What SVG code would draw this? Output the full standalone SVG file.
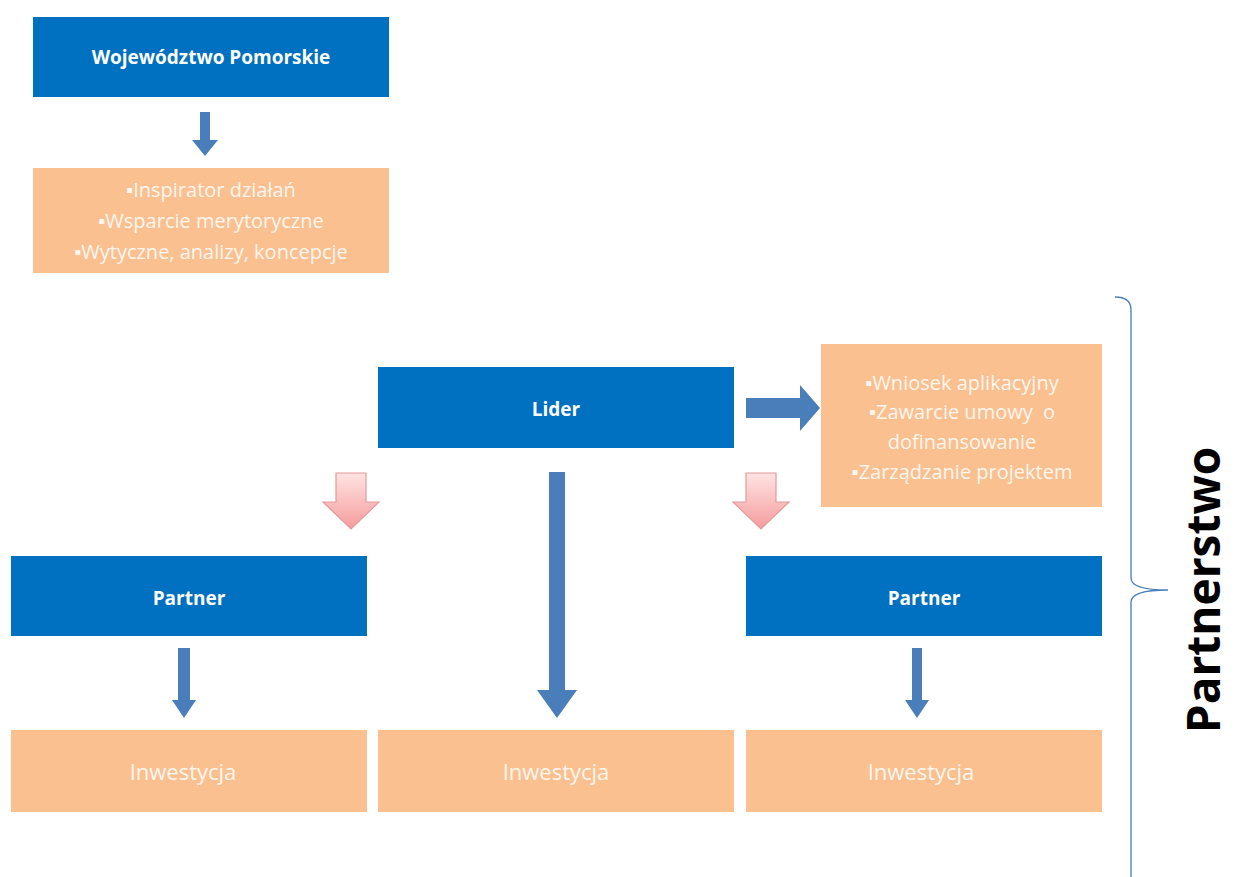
<svg xmlns="http://www.w3.org/2000/svg" width="1235" height="877" viewBox="0 0 1235 877">
<defs>
<linearGradient id="pink" x1="0" y1="0" x2="0" y2="1">
<stop offset="0" stop-color="#FFE3E3"/>
<stop offset="1" stop-color="#F59C9C"/>
</linearGradient>
<style>
.blue{fill:#0070C0}
.peach{fill:#FAC090}
.bt{font-family:"Open Sans","Liberation Sans",sans-serif;font-weight:bold;font-size:19px;fill:#FFFFFF;text-anchor:middle}
.pt{font-family:"Open Sans","Liberation Sans",sans-serif;font-size:20px;fill:#FFF6EE;text-anchor:middle}
.it{font-size:22px}
.arr{fill:#4A7EBB}
.pk{fill:url(#pink);stroke:#E39A9A;stroke-width:1.2}
</style>
</defs>
<rect width="1235" height="877" fill="#FFFFFF"/>
<g id="woj">
<rect class="blue" x="33" y="17" width="356" height="80"/>
<text class="bt" x="211" y="64">Województwo Pomorskie</text>
</g>
<g id="woj-desc">
<rect class="peach" x="33" y="168" width="356" height="105"/>
<text class="pt" x="211" y="197">▪Inspirator działań</text>
<text class="pt" x="211" y="228">▪Wsparcie merytoryczne</text>
<text class="pt" x="211" y="259">▪Wytyczne, analizy, koncepcje</text>
</g>
<g id="lider">
<rect class="blue" x="378" y="367" width="356" height="81"/>
<text class="bt" x="556" y="416">Lider</text>
</g>
<g id="lider-desc">
<rect class="peach" x="821" y="344" width="281" height="163"/>
<text class="pt" x="962" y="390">▪Wniosek aplikacyjny</text>
<text class="pt" x="962" y="419" xml:space="preserve">▪Zawarcie umowy  o</text>
<text class="pt" x="962" y="449">dofinansowanie</text>
<text class="pt" x="962" y="479">▪Zarządzanie projektem</text>
</g>
<g id="partner1">
<rect class="blue" x="11" y="556" width="356" height="80"/>
<text class="bt" x="189" y="605">Partner</text>
</g>
<g id="partner2">
<rect class="blue" x="746" y="556" width="356" height="80"/>
<text class="bt" x="924" y="605">Partner</text>
</g>
<g id="inw1">
<rect class="peach" x="11" y="730" width="356" height="82"/>
<text class="pt it" x="183" y="780">Inwestycja</text>
</g>
<g id="inw2">
<rect class="peach" x="378" y="730" width="356" height="82"/>
<text class="pt it" x="556" y="780">Inwestycja</text>
</g>
<g id="inw3">
<rect class="peach" x="746" y="730" width="356" height="82"/>
<text class="pt it" x="921" y="780">Inwestycja</text>
</g>
<g id="partnerstwo">
<path d="M1115,297 Q1131,297 1131,310 L1131,578 Q1131,590 1168,590 Q1131,590 1131,602 L1131,877" fill="none" stroke="#4A7EBB" stroke-width="1.3"/>
<text x="0" y="0" transform="translate(1220,590) rotate(-90)" font-family="'Open Sans','Liberation Sans',sans-serif" font-weight="bold" font-size="46" fill="#000000" text-anchor="middle">Partnerstwo</text>
</g>
<g id="connectors">
<path class="arr" d="M200,112 H210 V140 H218 L205,156 L192,140 H200 Z"/>
<path class="arr" d="M746,398 H800 V385 L820,408 L800,431 V418 H746 Z"/>
<path class="arr" d="M549,472 H565 V690 H577 L557,718 L537,690 H549 Z"/>
<path class="arr" d="M178,648 H190 V700 H196 L184,718 L172,700 H178 Z"/>
<path class="arr" d="M912,648 H922 V700 H929 L917,718 L905,700 H912 Z"/>
<path class="pk" d="M336,473 H366 V502 H379 L351,529 L323,502 H336 Z"/>
<path class="pk" d="M746,473 H776 V502 H789 L761,529 L733,502 H746 Z"/>
</g>
</svg>
